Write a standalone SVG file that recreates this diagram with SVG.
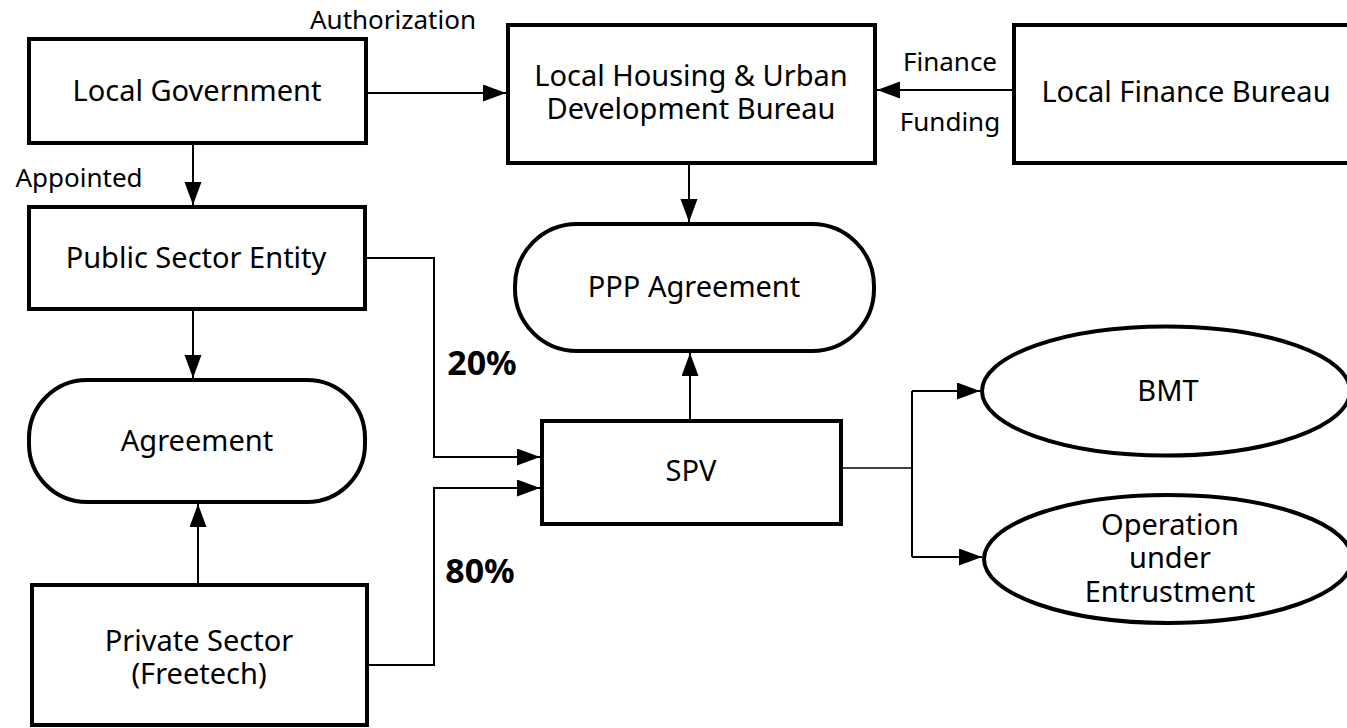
<svg xmlns="http://www.w3.org/2000/svg" width="1347" height="728" viewBox="0 0 1347 728">
  <defs>
    <marker id="arr" markerUnits="userSpaceOnUse" markerWidth="24" markerHeight="18" refX="23" refY="8.5" orient="auto">
      <path d="M0,0 L23,8.5 L0,17 Z" fill="#000"/>
    </marker>
    <style>
      .box { fill: #fff; stroke: #000; stroke-width: 4; }
      .t { font-family: "Noto Sans", "Open Sans", "DejaVu Sans", sans-serif; font-size: 29px; fill: #000; text-anchor: middle; }
      .lbl { font-family: "Noto Sans", "Open Sans", "DejaVu Sans", sans-serif; font-size: 26px; fill: #000; text-anchor: middle; }
      .pct { font-family: "Noto Sans", "Open Sans", "DejaVu Sans", sans-serif; font-size: 34px; font-weight: bold; fill: #000; text-anchor: middle; }
      .c { fill: none; stroke: #000; stroke-width: 2; }
      .ca { fill: none; stroke: #000; stroke-width: 2; marker-end: url(#arr); }
    </style>
  </defs>
  <rect width="1347" height="728" fill="#fff"/>

  <g id="connectors">
    <path class="ca" d="M368,93 H506"/>
    <path class="ca" d="M1012,90 H877"/>
    <path class="ca" d="M689,165 V222"/>
    <path class="ca" d="M193,145 V205"/>
    <path class="ca" d="M193,311 V378"/>
    <path class="ca" d="M198,585 V504"/>
    <path class="ca" d="M367,258 H434 V457 H540"/>
    <path class="ca" d="M369,665 H434 V488 H540"/>
    <path class="ca" d="M690,419 V353"/>
    <path class="c" style="stroke-width:1.3" d="M843,468 H912"/>
    <path class="c" d="M912,391 V557"/>
    <path class="ca" d="M912,391 H980"/>
    <path class="ca" d="M912,557 H982"/>
  </g>

  <g id="labels">
    <text class="lbl" x="393" y="29">Authorization</text>
    <text class="lbl" x="79" y="187">Appointed</text>
    <text class="lbl" x="950" y="71">Finance</text>
    <text class="lbl" x="950" y="131">Funding</text>
    <text class="pct" x="482" y="375">20%</text>
    <text class="pct" x="480" y="583">80%</text>
  </g>

  <g id="local-government">
    <rect class="box" x="29" y="39" width="337" height="104"/>
    <text class="t" x="197" y="101">Local Government</text>
  </g>
  <g id="housing-bureau">
    <rect class="box" x="508" y="25" width="367" height="138"/>
    <text class="t" x="691" y="86">Local Housing &amp; Urban</text>
    <text class="t" x="691" y="119">Development Bureau</text>
  </g>
  <g id="finance-bureau">
    <rect class="box" x="1014" y="25" width="400" height="138"/>
    <text class="t" x="1186" y="102">Local Finance Bureau</text>
  </g>
  <g id="public-sector-entity">
    <rect class="box" x="29" y="207" width="336" height="102"/>
    <text class="t" x="196" y="268">Public Sector Entity</text>
  </g>
  <g id="agreement">
    <rect class="box" x="29" y="380" width="336" height="122" rx="58" ry="58"/>
    <text class="t" x="197" y="451">Agreement</text>
  </g>
  <g id="private-sector">
    <rect class="box" x="32" y="585" width="335" height="140"/>
    <text class="t" x="199" y="651">Private Sector</text>
    <text class="t" x="199" y="684">(Freetech)</text>
  </g>
  <g id="ppp-agreement">
    <rect class="box" x="515" y="224" width="359" height="127" rx="62" ry="62"/>
    <text class="t" x="694" y="297">PPP Agreement</text>
  </g>
  <g id="spv">
    <rect class="box" x="542" y="421" width="299" height="103"/>
    <text class="t" x="691" y="481">SPV</text>
  </g>
  <g id="bmt">
    <ellipse class="box" cx="1166" cy="391" rx="184" ry="64.5"/>
    <text class="t" x="1168" y="401">BMT</text>
  </g>
  <g id="operation">
    <ellipse class="box" cx="1168" cy="559" rx="184" ry="64"/>
    <text class="t" x="1170" y="535">Operation</text>
    <text class="t" x="1170" y="568">under</text>
    <text class="t" x="1170" y="602">Entrustment</text>
  </g>
</svg>
